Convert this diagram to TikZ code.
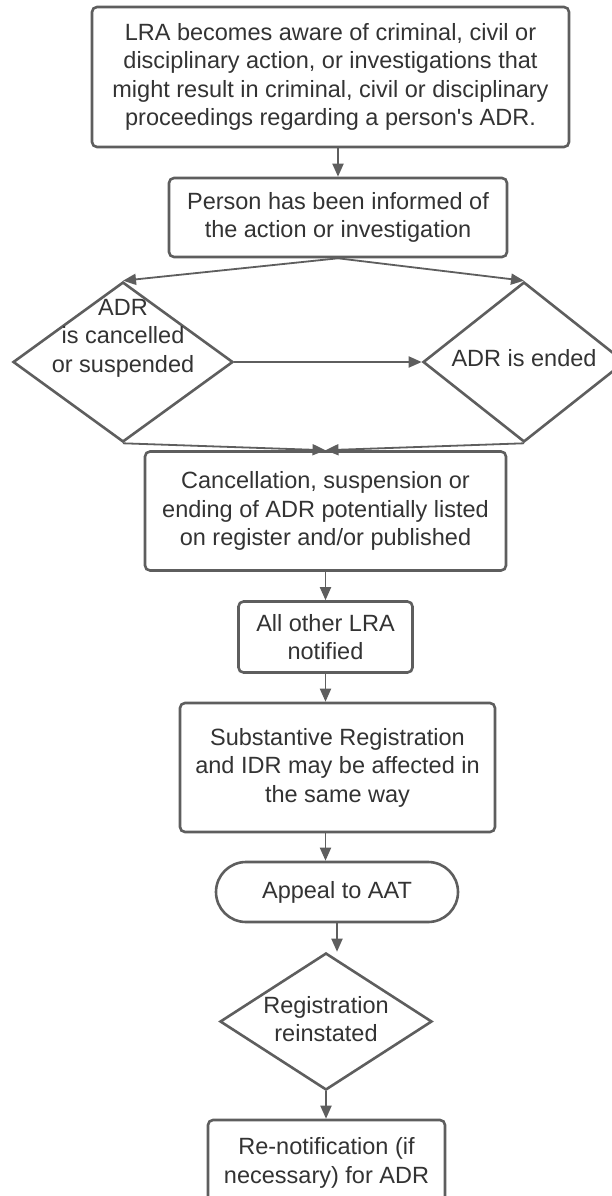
\documentclass[tikz,border=0pt]{standalone}
\usepackage{fontspec}
\setmainfont{Liberation Sans}
\newfontfamily\lsans{Liberation Sans}
\usetikzlibrary{shapes.geometric,shapes.misc,arrows.meta}
\definecolor{linec}{HTML}{5E5E5E}
\definecolor{textc}{HTML}{333333}
\tikzset{
  box/.style={draw=linec, line width=2.6pt, rounded corners=5pt, fill=white, inner sep=0pt, text=textc,
    align=center, font=\lsans\fontsize{23.5}{28.5}\selectfont},
  stadium/.style={draw=linec, line width=2.6pt, rounded rectangle, fill=white, inner sep=0pt, text=textc,
    align=center, font=\lsans\fontsize{23.5}{28.5}\selectfont},
  dshape/.style={draw=linec, line width=2.6pt, diamond, inner sep=0pt, fill=white},
  dtext/.style={text=textc, align=center, inner sep=0pt, font=\lsans\fontsize{23.5}{28.5}\selectfont},
  conn/.style={draw=linec, line width=1.8pt, -{Triangle[length=13pt,width=11pt]}},
}
\begin{document}
\begin{tikzpicture}[x=1pt,y=-1pt]
\useasboundingbox (0,0) rectangle (612,1196);
\clip (0,0) rectangle (612,1196);
\fill[white] (0,0) rectangle (612,1196);

\node[box, minimum width=477pt, minimum height=140pt] (top) at (330.5,77)
  {LRA becomes aware of criminal, civil or\\disciplinary action, or investigations that\\might result in criminal, civil or disciplinary\\proceedings regarding a person's ADR.};
\node[box, minimum width=338pt, minimum height=79pt] (inf) at (338,217.5)
  {Person has been informed of\\the action or investigation};

\node[dshape, minimum width=220pt, minimum height=160pt] (dl) at (123,362) {};
\node[dtext] (dlt) at (123,338) {ADR\\is cancelled\\or suspended};
\node[dshape, minimum width=202pt, minimum height=160pt] (dr) at (524,362) {};
\node[dtext] (drt) at (524,358) {ADR is ended};

\node[box, minimum width=361pt, minimum height=119pt] (canc) at (325.5,511)
  {Cancellation, suspension or\\ending of ADR potentially listed\\on register and/or published};
\node[box, minimum width=174pt, minimum height=71pt] (lra) at (325.5,637)
  {All other LRA\\notified};
\node[box, minimum width=315pt, minimum height=129pt] (sub) at (337.5,767.5)
  {Substantive Registration\\and IDR may be affected in\\the same way};
\node[stadium, minimum width=242pt, minimum height=60pt] (aat) at (337,892)
  {Appeal to AAT};
\node[dshape, minimum width=212pt, minimum height=137pt] (reg) at (326,1021.5) {};
\node[dtext] (regt) at (326,1019) {Registration\\reinstated};
\node[box, minimum width=237pt, minimum height=86pt] (ren) at (326.5,1163)
  {Re-notification (if\\necessary) for ADR};

\draw[conn] (inf.north |- top.south) -- (inf.north);
\draw[conn] (inf.south) -- (dl.north);
\draw[conn] (inf.south) -- (dr.north);
\draw[conn] (dl.east) -- (dr.west);
\draw[conn] (dl.south) -- (canc.north);
\draw[conn] (dr.south) -- (canc.north);
\draw[conn] (lra.north |- canc.south) -- (lra.north);
\draw[conn] (lra.south) -- (lra.south |- sub.north);
\draw[conn] (lra.south |- sub.south) -- (lra.south |- aat.north);
\draw[conn] (aat.south) -- (aat.south |- reg.north);
\draw[conn] (reg.south) -- (reg.south |- ren.north);
\end{tikzpicture}
\end{document}
